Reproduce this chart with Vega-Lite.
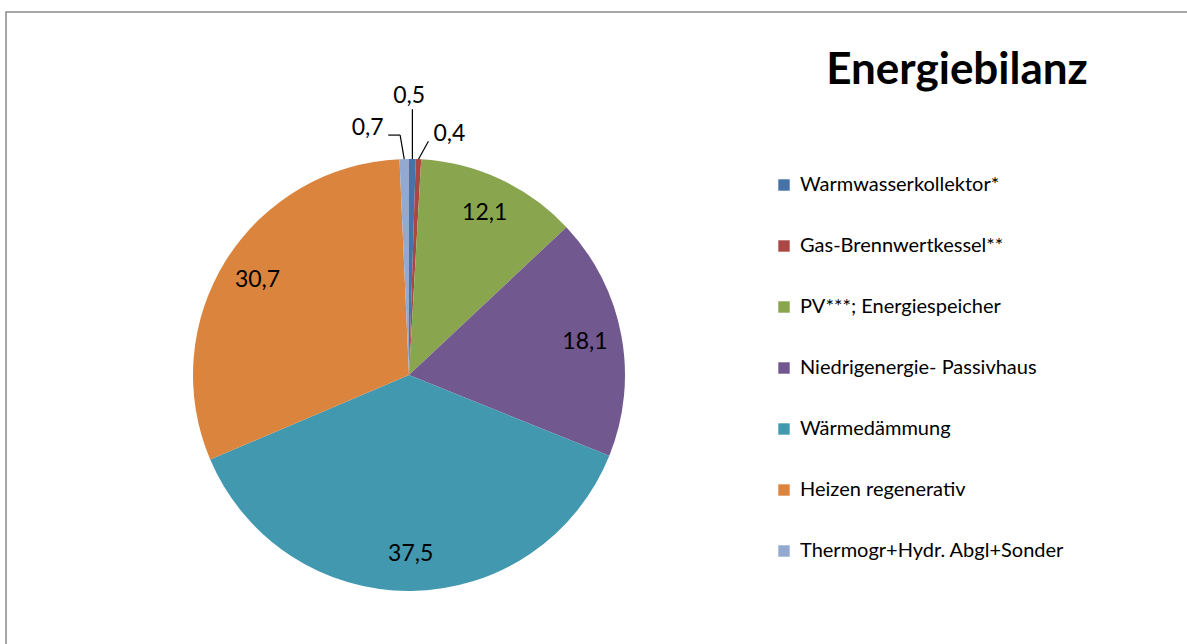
{
  "$schema": "https://vega.github.io/schema/vega-lite/v6.json",
  "width": 1195,
  "height": 642,
  "padding": {"left": 6, "top": 12, "right": 0, "bottom": 0},
  "autosize": {"type": "none"},
  "background": "white",
  "title": {
    "text": "Energiebilanz",
    "anchor": "start",
    "frame": "group",
    "orient": "top",
    "align": "center",
    "baseline": "alphabetic",
    "offset": 0,
    "dx": 951,
    "dy": 116,
    "font": "Lato",
    "fontSize": 44,
    "fontWeight": "bold",
    "color": "#000000"
  },
  "config": {
    "locale": {"number": {"decimal": ",", "thousands": ".", "grouping": [3], "currency": ["", " €"]}},
    "view": {"stroke": "#898989", "strokeWidth": 1.5},
    "legend": {
      "orient": "none",
      "legendX": 768,
      "legendY": 163,
      "title": null,
      "padding": 0,
      "labelFont": "Lato",
      "labelFontSize": 20,
      "labelColor": "#000000",
      "labelOffset": 6,
      "labelLimit": 400,
      "symbolType": "square",
      "symbolSize": 130,
      "symbolStrokeWidth": 0,
      "rowPadding": 41
    }
  },
  "data": {
    "values": [
      {"cat": "Warmwasserkollektor*", "value": 0.5, "idx": 1},
      {"cat": "Gas-Brennwertkessel**", "value": 0.4, "idx": 2},
      {"cat": "PV***; Energiespeicher", "value": 12.1, "idx": 3},
      {"cat": "Niedrigenergie- Passivhaus", "value": 18.1, "idx": 4},
      {"cat": "Wärmedämmung", "value": 37.5, "idx": 5},
      {"cat": "Heizen regenerativ", "value": 30.7, "idx": 6},
      {"cat": "Thermogr+Hydr. Abgl+Sonder", "value": 0.7, "idx": 7}
    ]
  },
  "layer": [
    {
      "mark": {"type": "arc", "outerRadius": 216, "stroke": null},
      "encoding": {
        "theta": {"field": "value", "type": "quantitative", "stack": true},
        "order": {"field": "idx", "type": "quantitative"},
        "color": {
          "field": "cat",
          "type": "nominal",
          "sort": ["Warmwasserkollektor*", "Gas-Brennwertkessel**", "PV***; Energiespeicher", "Niedrigenergie- Passivhaus", "Wärmedämmung", "Heizen regenerativ", "Thermogr+Hydr. Abgl+Sonder"],
          "scale": {
            "domain": ["Warmwasserkollektor*", "Gas-Brennwertkessel**", "PV***; Energiespeicher", "Niedrigenergie- Passivhaus", "Wärmedämmung", "Heizen regenerativ", "Thermogr+Hydr. Abgl+Sonder"],
            "range": ["#4572A7", "#AA4643", "#89A54E", "#71588F", "#4198AF", "#DB843D", "#93A9CF"]
          }
        },
        "x": {"datum": 0, "type": "quantitative", "scale": {"domain": [-1.8657, 3.6667], "nice": false, "zero": false}, "axis": null},
        "y": {"datum": 0, "type": "quantitative", "scale": {"domain": [-1.2917, 1.6806], "nice": false, "zero": false}, "axis": null}
      }
    },
    {
      "mark": {"type": "text", "radius": 179, "font": "Lato", "fontSize": 23, "fill": "#000000", "baseline": "middle", "align": "center"},
      "encoding": {
        "theta": {"field": "value", "type": "quantitative", "stack": true},
        "order": {"field": "idx", "type": "quantitative"},
        "detail": {"field": "cat", "type": "nominal"},
        "x": {"datum": 0, "type": "quantitative"},
        "y": {"datum": 0, "type": "quantitative"},
        "text": {"condition": {"test": "datum.value < 1", "value": ""}, "field": "value", "type": "quantitative", "format": ".1f"}
      }
    },
    {
      "transform": [
        {"window": [{"op": "sum", "field": "value", "as": "cum"}], "sort": [{"field": "idx", "order": "ascending"}], "frame": [null, 0]},
        {"joinaggregate": [{"op": "sum", "field": "value", "as": "total"}]},
        {"calculate": "(datum.cum - datum.value / 2) / datum.total * 2 * PI", "as": "mid"},
        {"calculate": "sin(datum.mid)", "as": "sx"},
        {"calculate": "cos(datum.mid)", "as": "sy"},
        {"filter": "datum.value < 1"},
        {"calculate": "datum.idx == 1 ? datum.sx : datum.idx == 2 ? datum.sx + 0.046 : datum.sx - 0.019", "as": "mx"},
        {"calculate": "datum.idx == 1 ? datum.sy + 0.231 : datum.idx == 2 ? datum.sy + 0.083 : datum.sy + 0.111", "as": "my"},
        {"calculate": "datum.idx == 7 ? datum.sx - 0.074 : datum.mx", "as": "ex"},
        {"calculate": "datum.my", "as": "ey"},
        {"calculate": "datum.idx == 1 ? datum.sx - 0.015 : datum.idx == 2 ? datum.sx + 0.143 : datum.sx - 0.169", "as": "lx"},
        {"calculate": "datum.idx == 1 ? datum.sy + 0.294 : datum.idx == 2 ? datum.sy + 0.117 : datum.sy + 0.142", "as": "ly"}
      ],
      "layer": [
        {
          "mark": {"type": "rule", "stroke": "#000000", "strokeWidth": 1.2},
          "encoding": {
            "x": {"field": "sx", "type": "quantitative"},
            "y": {"field": "sy", "type": "quantitative"},
            "x2": {"field": "mx"},
            "y2": {"field": "my"}
          }
        },
        {
          "transform": [{"filter": "datum.idx == 7"}],
          "mark": {"type": "rule", "stroke": "#000000", "strokeWidth": 1.2},
          "encoding": {
            "x": {"field": "mx", "type": "quantitative"},
            "y": {"field": "my", "type": "quantitative"},
            "x2": {"field": "ex"},
            "y2": {"field": "ey"}
          }
        },
        {
          "mark": {"type": "text", "font": "Lato", "fontSize": 23, "fill": "#000000", "baseline": "middle", "align": "center"},
          "encoding": {
            "x": {"field": "lx", "type": "quantitative"},
            "y": {"field": "ly", "type": "quantitative"},
            "text": {"field": "value", "type": "quantitative", "format": ".1f"}
          }
        }
      ]
    }
  ]
}
